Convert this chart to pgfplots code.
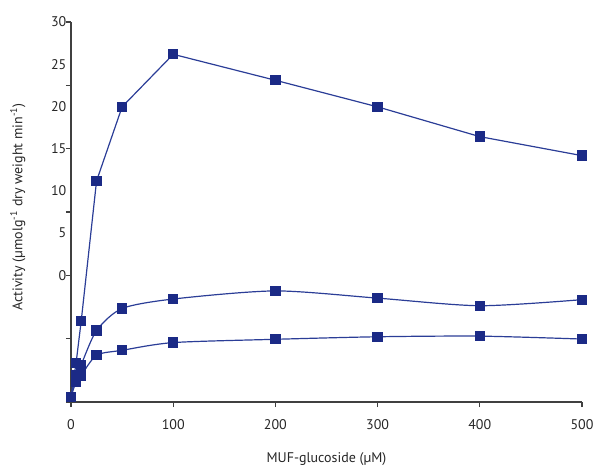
\documentclass[border=0pt]{standalone}
\usepackage{pgfplots}
\pgfplotsset{compat=1.18}
\usepackage{fontspec}
\setmainfont{PT Sans}
\definecolor{mk}{HTML}{1B2A86}
\definecolor{ln}{HTML}{2B3D97}
\begin{document}
\begin{tikzpicture}
% page: 600x475 px at 0.75pt/px, axis box from (71,22) to (582,402) px
\useasboundingbox (-53.25pt,-54.75pt) rectangle (396.75pt,301.5pt);
\begin{axis}[
    scale only axis,
    width=383.25pt, height=285pt,
    xmin=0, xmax=500, ymin=0, ymax=30,
    axis lines=left,
    axis line style={-, draw=black!75, line width=0.8pt},
    tick style={draw=black!75, line width=0.8pt},
    tick align=outside,
    major tick length=3.75pt,
    xtick={0,100,...,500},
    ytick={0,5,...,30},
    yticklabels={},
    extra y ticks={30,26.667,23.333,20,16.667,13.333,10},
    extra y tick labels={30,25,20,15,10,5,0},
    extra y tick style={major tick length=0pt},
    ticklabel style={font=\fontsize{10.5}{12}\selectfont, text=black!85},
    xticklabel style={yshift=-6pt},
    /pgf/number format/assume math mode=true,
    xlabel={MUF-glucoside (µM)},
    ylabel={Activity (µmolg\textsuperscript{-1} dry weight min\textsuperscript{-1})},
    label style={font=\fontsize{10.5}{12}\selectfont, text=black!85},
    xlabel style={at={(axis description cs:0.5,-0.15)}, anchor=center},
    ylabel style={at={(axis description cs:-0.104,0.513)}, anchor=center},
    clip=false,
    series/.style={draw=ln, line width=0.9pt,
        mark=square*, mark size=3.4pt, mark options={fill=mk, draw=mk, solid}},
]
\addplot[series] coordinates {
    (0,0.4) (5,3.1) (10,6.4) (25,17.45) (50,23.3) (100,27.45)
    (200,25.4) (300,23.3) (400,20.95) (500,19.45)
};
\addplot[series, smooth, tension=0.45] coordinates {
    (0,0.4) (5,2.1) (10,2.95) (25,5.64) (50,7.38) (100,8.13)
    (200,8.77) (300,8.2) (400,7.6) (500,8.08)
};
\addplot[series, smooth, tension=0.45] coordinates {
    (0,0.4) (5,1.6) (10,2.1) (25,3.69) (50,4.08) (100,4.69)
    (200,4.95) (300,5.15) (400,5.2) (500,4.97)
};
\end{axis}
\end{tikzpicture}
\end{document}
